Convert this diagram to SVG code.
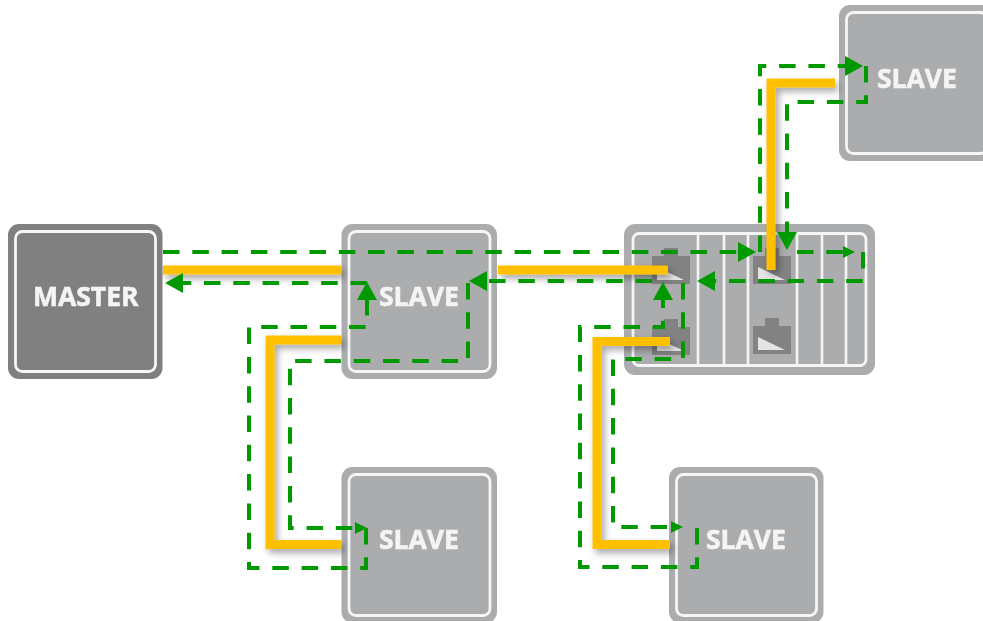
<svg xmlns="http://www.w3.org/2000/svg" xmlns:xlink="http://www.w3.org/1999/xlink" width="983" height="621" viewBox="0 0 983 621">
<style>
.outer{fill:#abacae}
.outer.dark{fill:#808080}
.frame{fill:none;stroke:#f6f6f6;stroke-width:2.800}
.lbl{font-family:"Open Sans","Liberation Sans",sans-serif;font-weight:700;font-size:26.500px;fill:#f4f4f4;stroke:#f4f4f4;stroke-width:.6}
.div{stroke:#f4f4f4;stroke-width:2.600}
.orange{fill:none;stroke:#ffc000;stroke-width:9;stroke-linejoin:miter;filter:url(#sh)}
.green{fill:none;stroke:#009a00;stroke-width:4;stroke-dasharray:16.500 12.800}
.big{marker-end:url(#ab)}
.small{marker-end:url(#as)}
</style>
<defs>
<filter id="sh" filterUnits="userSpaceOnUse" x="0" y="0" width="983" height="621"><feDropShadow dx="3" dy="4" stdDeviation="3.500" flood-color="#000" flood-opacity=".35"/></filter>
<filter id="soft" filterUnits="userSpaceOnUse" x="0" y="0" width="983" height="621"><feGaussianBlur stdDeviation=".5"/></filter>
<marker id="ab" markerUnits="userSpaceOnUse" markerWidth="19" markerHeight="20" refX="1" refY="10" orient="auto"><path d="M0 0L18 10L0 20Z" fill="#009a00"/></marker>
<marker id="as" markerUnits="userSpaceOnUse" markerWidth="13" markerHeight="13" refX="1" refY="6" orient="auto"><path d="M0 0L12 6L0 12Z" fill="#009a00"/></marker>
<g id="port"><path d="M0 8H12V0H26V8H38V36H0Z" fill="#828283"/><path d="M5 19L32 32H5Z" fill="#e4e4e4"/></g>
</defs>
<rect width="983" height="621" fill="#fff"/>
<g filter="url(#soft)">
<g id="master"><rect class="outer dark" x="8" y="224" width="154.500" height="155" rx="11"/><rect class="frame" x="15.500" y="231.500" width="140" height="140" rx="7"/><text class="lbl" x="33" y="306">MASTER</text></g>
<g id="slave-main"><rect class="outer" x="341.500" y="224" width="155.500" height="155" rx="11"/><rect class="frame" x="349" y="231.500" width="141" height="140" rx="7"/><text class="lbl" x="379" y="306">SLAVE</text></g>
<g id="slave-top"><rect class="outer" x="839" y="5" width="156" height="156" rx="11"/><rect class="frame" x="846.500" y="12.500" width="141" height="141" rx="7"/><text class="lbl" x="877" y="88">SLAVE</text></g>
<g id="slave-left"><rect class="outer" x="341.500" y="467" width="155.500" height="156" rx="11"/><rect class="frame" x="349" y="474.500" width="141" height="141" rx="7"/><text class="lbl" x="379" y="549">SLAVE</text></g>
<g id="slave-right"><rect class="outer" x="669" y="467" width="154.500" height="156" rx="11"/><rect class="frame" x="676.500" y="474.500" width="140" height="141" rx="7"/><text class="lbl" x="706" y="549">SLAVE</text></g>
<g id="switch"><rect class="outer" x="624" y="224" width="251" height="151" rx="11"/><rect class="frame" x="633" y="233.500" width="233" height="132" rx="6"/>
<path class="div" d="M698 235V364M724 235V364M748 235V364M797 235V364M822 235V364M846 235V364"/>
<use xlink:href="#port" href="#port" x="652" y="248"/><use xlink:href="#port" href="#port" x="652" y="319"/><use xlink:href="#port" href="#port" x="753" y="248"/><use xlink:href="#port" href="#port" x="753" y="318"/></g>
<g id="connectors">
<path class="orange" d="M163 270H341"/>
<path class="orange" d="M498 270H668"/>
<path class="orange" d="M341 340H270V544.500H341"/>
<path class="orange" d="M670 341.500H597V544.500H670"/>
<path class="orange" d="M835 83H771V270"/>
<path class="green big" d="M163 252H739"/>
<path class="green small" d="M797 252H844"/>
<path class="green big" d="M863 252V281H714"/>
<path class="green small" d="M683 283V359H613V527H672"/>
<path class="green big" d="M697 528V567H580V327H663V299"/>
<path class="green big" d="M652 281H486"/>
<path class="green small" d="M468 283V361H290V528H356"/>
<path class="green big" d="M366 528V568H249V327H367V299"/>
<path class="green big" d="M367 283H182"/>
<path class="green big" d="M760 252V66H846"/>
<path class="green big" d="M866 66V102H787V233"/>
</g>
</g>
</svg>
